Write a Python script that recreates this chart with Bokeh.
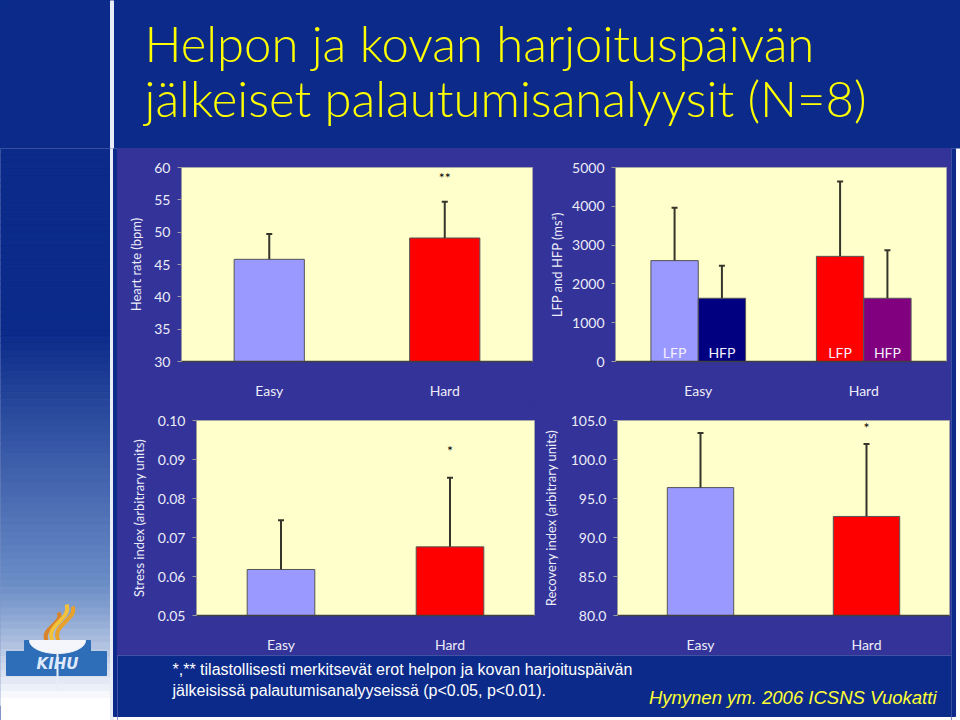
import numpy as np
from bokeh.plotting import figure
from bokeh.layouts import row, column
from bokeh.models import Range1d, FactorRange, FixedTicker, NumeralTickFormatter, ColumnDataSource
from bokeh.transform import dodge
from bokeh.core.properties import value
from bokeh.embed import file_html
from bokeh.resources import INLINE

# ---------------- data ----------------
categories = ["Easy", "Hard"]

hr_mean = [45.8, 49.1]
hr_sd = [3.9, 5.6]
hr_sig = ["", "**"]
hr_ticks = [30, 35, 40, 45, 50, 55, 60]

lfp_mean = [2600, 2710]
lfp_sd = [1360, 1930]
hfp_mean = [1630, 1630]
hfp_sd = [840, 1240]
power_ticks = [0, 1000, 2000, 3000, 4000, 5000]
power_labels = ["LFP", "HFP"]

stress_mean = [0.0618, 0.0676]
stress_sd = [0.0126, 0.0177]
stress_sig = ["", "*"]
stress_ticks = [0.05, 0.06, 0.07, 0.08, 0.09, 0.10]

recovery_mean = [96.4, 92.7]
recovery_sd = [7.0, 9.3]
recovery_sig = ["", "*"]
recovery_ticks = [80, 85, 90, 95, 100, 105]

title_lines = ["Helpon ja kovan harjoituspäivän", "jälkeiset palautumisanalyysit (N=8)"]
footnote_lines = ["*,** tilastollisesti merkitsevät erot helpon ja kovan harjoituspäivän",
                  "jälkeisissä palautumisanalyyseissä (p<0.05, p<0.01)."]
source_text = "Hynynen ym. 2006 ICSNS Vuokatti"

# ---------------- style ----------------
NAVY = "#0b2a8a"
PANEL = "#333399"
CREAM = "#ffffcc"
LIGHT = "#ececf8"
ERR = "#35352c"
EASY = "#9999ff"
HARD = "#ff0000"
EASY_HFP = "#000080"
HARD_HFP = "#800080"
FONT = "Lato"


def plain_fig(w, h, xr, yr, bg):
    p = figure(width=w, height=h, x_range=xr, y_range=yr, output_backend="svg",
               toolbar_location=None, x_axis_location=None, y_axis_location=None,
               min_border=0, background_fill_color=bg, border_fill_color=bg,
               outline_line_color=None)
    p.grid.visible = False
    return p


def chart(w, h, borders, yr, ticks, fmt, ylabel, als):
    left, right, top, bottom = borders
    p = figure(width=w, height=h, x_range=FactorRange(factors=categories),
               y_range=Range1d(yr[0], yr[1]), output_backend="svg", toolbar_location=None,
               min_border_left=left, min_border_right=right,
               min_border_top=top, min_border_bottom=bottom,
               background_fill_color=CREAM, border_fill_color=PANEL,
               outline_line_color="#a8a8a8", outline_line_width=1)
    p.grid.visible = False
    ya = p.yaxis[0]
    ya.ticker = FixedTicker(ticks=ticks)
    ya.formatter = NumeralTickFormatter(format=fmt)
    ya.axis_label = ylabel
    ya.axis_label_standoff = als
    ya.axis_label_text_font = FONT
    ya.axis_label_text_font_style = "normal"
    ya.axis_label_text_font_size = "13px"
    ya.axis_label_text_color = LIGHT
    ya.major_label_text_font = FONT
    ya.major_label_text_font_size = "14px"
    ya.major_label_text_color = LIGHT
    ya.major_label_standoff = 7
    ya.axis_line_color = "#9a9a9a"
    ya.major_tick_line_color = "#9a9a9a"
    ya.major_tick_in = 0
    ya.major_tick_out = 4
    ya.minor_tick_line_color = None
    xa = p.xaxis[0]
    xa.axis_line_color = "#404040"
    xa.axis_line_width = 1.5
    xa.major_tick_line_color = None
    xa.major_label_standoff = 14
    xa.major_label_text_font = FONT
    xa.major_label_text_font_size = "14px"
    xa.major_label_text_color = LIGHT
    return p


def simple_bars(p, mean, sd, floor, sig, sig_y):
    src = ColumnDataSource(dict(cat=categories, mean=mean,
                                upper=[m + s for m, s in zip(mean, sd)],
                                color=[EASY, HARD], sig=sig))
    p.vbar(x="cat", top="mean", bottom=floor, width=0.4, fill_color="color",
           line_color="#555555", line_width=1, source=src)
    p.segment(x0="cat", y0="mean", x1="cat", y1="upper", line_color=ERR, line_width=2, source=src)
    p.scatter(x="cat", y="upper", marker="dash", size=6, line_color=ERR, line_width=2, source=src)
    p.text(x="cat", y=sig_y, text="sig", source=src, text_align="center", text_baseline="middle",
           text_font=value(FONT), text_font_size="14px", text_color="#000000")


# ---------------- title band ----------------
title_fig = plain_fig(960, 148, Range1d(0, 960), Range1d(148, 0), NAVY)
title_fig.quad(left=110, right=113, top=0, bottom=148, color="#e8ecf6")
title_fig.text(x=[144, 144], y=[42, 97], text=title_lines, text_font=value("Lato Light"),
               text_font_size="49px", text_color="#ffff00", text_baseline="middle")

# ---------------- chart 1: heart rate ----------------
c1 = chart(418, 254, (64, 3, 18, 41), (30, 60), hr_ticks, "0", "Heart rate (bpm)", 7)
simple_bars(c1, hr_mean, hr_sd, 30, hr_sig, 58.5)

# ---------------- chart 2: LFP / HFP ----------------
c2 = chart(416, 254, (80, 5, 19, 40), (0, 5000), power_ticks, "0", "LFP and HFP (ms²)", 4)
off = 0.143
src2 = ColumnDataSource(dict(cat=categories, lfp=lfp_mean,
                             lfp_up=[m + s for m, s in zip(lfp_mean, lfp_sd)],
                             hfp=hfp_mean, hfp_up=[m + s for m, s in zip(hfp_mean, hfp_sd)],
                             lcol=[EASY, HARD], hcol=[EASY_HFP, HARD_HFP],
                             llab=[power_labels[0]] * 2, hlab=[power_labels[1]] * 2))
for key, up, col, lab, d in (("lfp", "lfp_up", "lcol", "llab", -off), ("hfp", "hfp_up", "hcol", "hlab", off)):
    xs = dodge("cat", d, range=c2.x_range)
    c2.vbar(x=xs, top=key, bottom=0, width=0.286, fill_color=col, line_color="#555555",
            line_width=1, source=src2)
    c2.segment(x0=xs, y0=key, x1=xs, y1=up, line_color=ERR, line_width=2, source=src2)
    c2.scatter(x=xs, y=up, marker="dash", size=6, line_color=ERR, line_width=2, source=src2)
    c2.text(x=xs, y=0, text=lab, source=src2, text_align="center", text_baseline="middle",
            y_offset=-9, text_font=value(FONT), text_font_size="14px", text_color="#f4f0ff")

# ---------------- chart 3: stress index ----------------
c3 = chart(418, 253, (79, 1, 16, 37), (0.05, 0.10), stress_ticks, "0.00",
           "Stress index (arbitrary units)", 8)
simple_bars(c3, stress_mean, stress_sd, 0.05, stress_sig, 0.0922)

# ---------------- chart 4: recovery index ----------------
c4 = chart(416, 253, (82, 2, 18, 38), (80, 105), recovery_ticks, "0.0",
           "Recovery index (arbitrary units)", 9)
simple_bars(c4, recovery_mean, recovery_sd, 80, recovery_sig, 104.1)

# ---------------- footer ----------------
footer = plain_fig(834, 65, Range1d(117, 951), Range1d(720, 655), "#ffffff")
footer.quad(left=117, right=951, top=655, bottom=716, color=NAVY)
footer.text(x=[172, 172], y=[669, 690], text=footnote_lines, text_font=value("Liberation Sans"),
            text_font_size="16px", text_color="#ffffff", text_baseline="middle")
footer.text(x=[936], y=[697], text=[source_text], text_font=value("Liberation Sans"),
            text_font_size="18.5px", text_font_style="italic", text_color="#ffff33",
            text_baseline="middle", text_align="right")

# ---------------- left strip with logo ----------------
left = plain_fig(117, 572, Range1d(0, 117), Range1d(720, 148), "#ffffff")
n = 80
ys = np.linspace(148, 705, n + 1)
navy = np.array([0x0b, 0x2a, 0x8a])
mid = np.array([0x6a, 0x8c, 0xc6])
white = np.array([255, 255, 255])
cols = []
for yc in (ys[:-1] + ys[1:]) / 2:
    if yc < 330:
        c = navy
    elif yc < 580:
        t = (yc - 330) / 250
        c = navy + (mid - navy) * t
    else:
        t = min(1.0, (yc - 580) / 120)
        c = mid + (white - mid) * t ** 1.2
    cols.append("#%02x%02x%02x" % tuple(int(v) for v in c))
left.quad(left=0, right=110, top=ys[:-1], bottom=ys[1:], color=cols)
left.quad(left=110, right=113, top=148, bottom=720, color="#e8ecf6")
left.quad(left=113, right=117, top=148, bottom=716, color=NAVY)
left.bezier(x0=[46, 52, 58], y0=[640, 640, 640], x1=[58, 66, 72], y1=[612, 604, 606],
            cx0=[40, 44, 50], cy0=[628, 625, 625], cx1=[64, 72, 78], cy1=[622, 618, 618],
            line_color=["#d9842a", "#f2c23a", "#e8a22c"], line_width=4)
left.quad(left=[24, 6], right=[90, 106], top=[640, 651], bottom=[652, 675], color="#2e6db8")
th = np.linspace(0, np.pi, 30)
left.patch(x=list(57 + 28 * np.cos(th)), y=list(640 + 13 * np.sin(th)), color="#f4f6fb")
left.segment(x0=[57], y0=[652], x1=[57], y1=[690], line_color="#e8eef8", line_width=2)
left.text(x=[57], y=[663], text=["KIHU"], text_font=value("DejaVu Sans"), text_font_size="15px",
          text_font_style="bold italic", text_color="#dfe9fb", text_align="center",
          text_baseline="middle")

# ---------------- right strip ----------------
right = plain_fig(9, 572, Range1d(951, 960), Range1d(720, 148), "#ffffff")
right.quad(left=951, right=955, top=148, bottom=716, color=NAVY)

top_row = row(c1, c2, styles={"background-color": PANEL})
bottom_row = row(c3, c4, styles={"background-color": PANEL})
middle = column(top_row, bottom_row, footer, styles={"background-color": PANEL})
body = row(left, middle, right, styles={"background-color": NAVY})
layout = column(title_fig, body, styles={"background-color": NAVY})

open("out.html", "w").write(file_html(layout, INLINE))
